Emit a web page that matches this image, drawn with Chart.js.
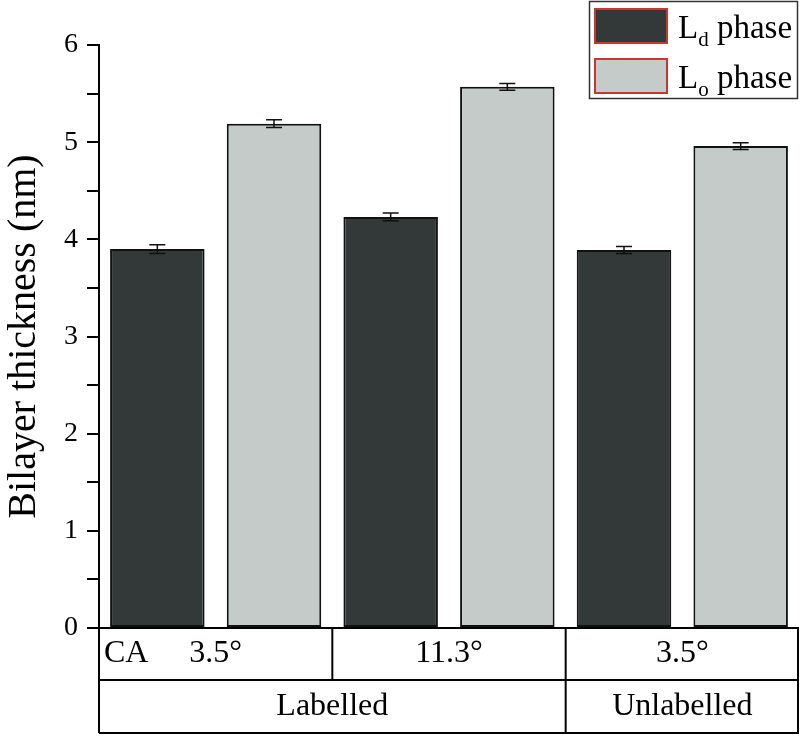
<!DOCTYPE html>
<html>
<head>
<meta charset="utf-8">
<script src="https://cdn.jsdelivr.net/npm/chart.js@4"></script>
<style>
  html, body { margin: 0; padding: 0; background: #fff; }
  #wrap { width: 800px; height: 736px; }
</style>
</head>
<body>
<div id="wrap"><canvas id="myChart" width="800" height="736"></canvas></div>
<script>
// data
const categories = ['3.5°', '11.3°', '3.5°'];
const groupLabels = ['Labelled', 'Unlabelled'];
const groupSpans = [2, 1];
const ldValues = [3.90, 4.23, 3.89];
const ldErrors = [0.045, 0.04, 0.035];
const loValues = [5.19, 5.57, 4.96];
const loErrors = [0.04, 0.035, 0.035];
const seriesMain = ['L', 'L'];
const seriesSub = ['d', 'o'];
const seriesRest = [' phase', ' phase'];
const yMin = 0, yMax = 6;

const FONT = '"Liberation Serif", "Times New Roman", serif';

// error bars drawn on top of the bars
const errorBarPlugin = {
    id: 'errorBars',
    afterDatasetsDraw(chart) {
        const ctx = chart.ctx;
        const y = chart.scales.y;
        chart.data.datasets.forEach((ds, i) => {
            const meta = chart.getDatasetMeta(i);
            meta.data.forEach((bar, j) => {
                const v = ds.data[j], e = ds.errors[j];
                const top = y.getPixelForValue(v + e);
                const bot = y.getPixelForValue(v - e);
                ctx.save();
                ctx.strokeStyle = '#111';
                ctx.lineWidth = 1.5;
                ctx.beginPath();
                ctx.moveTo(bar.x, top); ctx.lineTo(bar.x, bot);
                ctx.moveTo(bar.x - 8, top); ctx.lineTo(bar.x + 8, top);
                ctx.moveTo(bar.x - 8, bot); ctx.lineTo(bar.x + 8, bot);
                ctx.stroke();
                ctx.restore();
            });
        });
    }
};

// table under the x axis (CA row + group row)
const tablePlugin = {
    id: 'xTable',
    afterDraw(chart) {
        const ctx = chart.ctx;
        const x = chart.scales.x;
        const area = chart.chartArea;
        const row1 = area.bottom + 52;
        const row2 = area.bottom + 105;
        const edges = [area.left];
        for (let i = 0; i < categories.length - 1; i++) {
            edges.push((x.getPixelForValue(i) + x.getPixelForValue(i + 1)) / 2);
        }
        edges.push(area.right);

        ctx.save();
        ctx.strokeStyle = '#000';
        ctx.lineWidth = 2;
        ctx.beginPath();
        ctx.moveTo(area.left - 12, area.bottom); ctx.lineTo(area.right, area.bottom);
        ctx.moveTo(area.left, row1); ctx.lineTo(area.right, row1);
        ctx.moveTo(area.left, row2); ctx.lineTo(area.right, row2);
        ctx.moveTo(area.left, area.bottom); ctx.lineTo(area.left, row2);
        ctx.moveTo(area.right - 1, area.bottom); ctx.lineTo(area.right - 1, row2);
        for (let i = 1; i < edges.length - 1; i++) {
            ctx.moveTo(edges[i], area.bottom); ctx.lineTo(edges[i], row1);
        }
        let k = 0;
        for (let g = 0; g < groupSpans.length - 1; g++) {
            k += groupSpans[g];
            ctx.moveTo(edges[k], row1); ctx.lineTo(edges[k], row2);
        }
        ctx.stroke();

        ctx.fillStyle = '#000';
        ctx.font = '32px ' + FONT;
        ctx.textBaseline = 'middle';
        ctx.textAlign = 'left';
        ctx.fillText('CA', area.left + 5, (area.bottom + row1) / 2);
        ctx.textAlign = 'center';
        categories.forEach((c, i) => {
            ctx.fillText(c, (edges[i] + edges[i + 1]) / 2, (area.bottom + row1) / 2);
        });
        k = 0;
        groupLabels.forEach((g, i) => {
            const a = edges[k], b = edges[k + groupSpans[i]];
            ctx.fillText(g, (a + b) / 2, (row1 + row2) / 2);
            k += groupSpans[i];
        });
        ctx.restore();
    }
};

// legend with subscripts, boxed at the top right
const legendPlugin = {
    id: 'subLegend',
    afterDraw(chart) {
        const ctx = chart.ctx;
        ctx.save();
        ctx.strokeStyle = '#333';
        ctx.lineWidth = 1.5;
        ctx.strokeRect(589.5, 1.5, 208, 97);
        chart.data.datasets.forEach((ds, i) => {
            const top = 9 + i * 50;
            ctx.fillStyle = ds.backgroundColor;
            ctx.fillRect(595, top, 72, 34);
            ctx.strokeStyle = '#c8372d';
            ctx.lineWidth = 2;
            ctx.strokeRect(595, top, 72, 34);
            const base = top + 29;
            ctx.fillStyle = '#000';
            ctx.textBaseline = 'alphabetic';
            ctx.textAlign = 'left';
            ctx.font = '33px ' + FONT;
            let tx = 678;
            ctx.fillText(seriesMain[i], tx, base);
            tx += ctx.measureText(seriesMain[i]).width;
            ctx.font = '21px ' + FONT;
            ctx.fillText(seriesSub[i], tx, base + 8);
            tx += ctx.measureText(seriesSub[i]).width;
            ctx.font = '33px ' + FONT;
            ctx.fillText(seriesRest[i], tx, base);
        });
        ctx.restore();
    }
};

new Chart(document.getElementById('myChart'), {
    type: 'bar',
    data: {
        labels: categories,
        datasets: [
            {
                label: 'Ld phase',
                data: ldValues,
                errors: ldErrors,
                backgroundColor: '#333839',
                borderColor: '#111',
                borderWidth: 2,
                borderSkipped: false,
                barPercentage: 0.81,
                categoryPercentage: 1
            },
            {
                label: 'Lo phase',
                data: loValues,
                errors: loErrors,
                backgroundColor: '#c5cbc9',
                borderColor: '#111',
                borderWidth: 2,
                borderSkipped: false,
                barPercentage: 0.81,
                categoryPercentage: 1
            }
        ]
    },
    options: {
        responsive: false,
        animation: false,
        layout: { padding: { top: 45, bottom: 108, left: 0, right: 1 } },
        plugins: {
            legend: { display: false },
            tooltip: { enabled: false }
        },
        scales: {
            x: { display: false },
            y: {
                min: yMin,
                max: yMax,
                afterFit(scale) { scale.width = 99; },
                border: { display: true, color: '#000', width: 2 },
                grid: {
                    drawOnChartArea: false,
                    drawTicks: true,
                    tickLength: 12,
                    color: '#000',
                    lineWidth: 2
                },
                ticks: {
                    stepSize: 0.5,
                    padding: 9,
                    color: '#000',
                    font: { family: FONT, size: 28 },
                    callback: v => Number.isInteger(v) ? String(v) : ''
                },
                title: {
                    display: true,
                    text: 'Bilayer thickness (nm)',
                    color: '#000',
                    font: { family: FONT, size: 40 },
                    padding: { top: 0, bottom: 0 }
                }
            }
        }
    },
    plugins: [errorBarPlugin, tablePlugin, legendPlugin]
});
</script>
</body>
</html>
